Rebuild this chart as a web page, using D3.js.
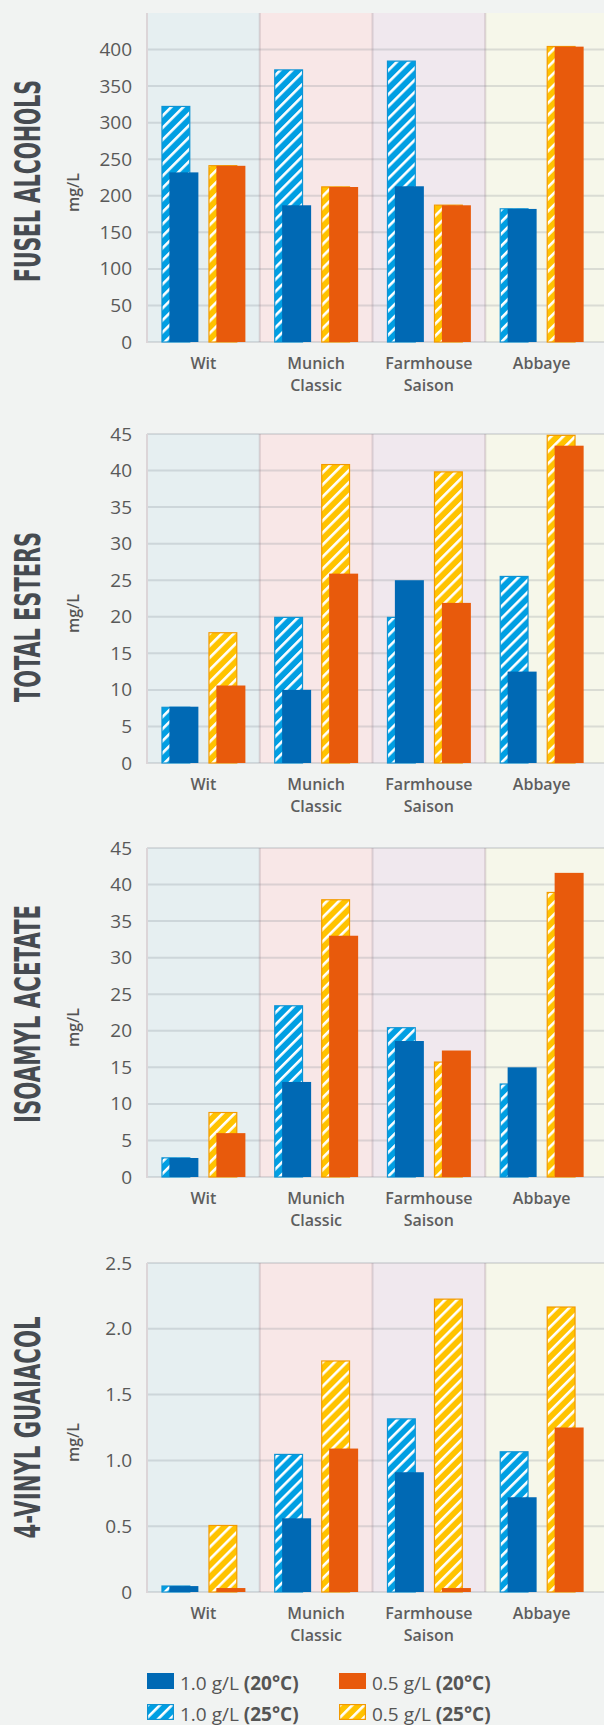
<!DOCTYPE html>
<html>
<head>
<meta charset="utf-8">
<script src="https://cdn.jsdelivr.net/npm/d3@7/dist/d3.min.js"></script>
<style>
  html, body { margin: 0; padding: 0; background: #f1f3f2; }
  svg { display: block; font-family: "Open Sans", "Noto Sans", sans-serif; }
</style>
</head>
<body>
<svg id="chart" width="604" height="1725"></svg>
<script>
// categories and panel names
const beers = ["Wit", "Munich Classic", "Farmhouse Saison", "Abbaye"];
const panelTitles = ["FUSEL ALCOHOLS", "TOTAL ESTERS", "ISOAMYL ACETATE", "4-VINYL GUAIACOL"];
const unitLabel = "mg/L";

// series, order: Wit, Munich, Farmhouse, Abbaye
const fusel_10g_25C = [323, 373, 385, 183];
const fusel_10g_20C = [232, 187, 213, 182];
const fusel_05g_25C = [242, 213, 188, 405];
const fusel_05g_20C = [241, 212, 187, 404];

const esters_10g_25C = [7.7, 20.0, 20.0, 25.6];
const esters_10g_20C = [7.7, 10.0, 25.0, 12.5];
const esters_05g_25C = [17.9, 40.9, 39.9, 44.9];
const esters_05g_20C = [10.6, 25.9, 21.9, 43.4];

const isoamyl_10g_25C = [2.7, 23.5, 20.5, 12.8];
const isoamyl_10g_20C = [2.6, 13.0, 18.6, 15.0];
const isoamyl_05g_25C = [8.9, 38.0, 15.8, 39.0];
const isoamyl_05g_20C = [6.0, 33.0, 17.3, 41.6];

const vg_10g_25C = [0.05, 1.05, 1.32, 1.07];
const vg_10g_20C = [0.045, 0.56, 0.91, 0.72];
const vg_05g_25C = [0.51, 1.76, 2.23, 2.17];
const vg_05g_20C = [0.03, 1.09, 0.03, 1.25];

// axis ticks
const fuselTicks = [0, 50, 100, 150, 200, 250, 300, 350, 400];
const esterTicks = [0, 5, 10, 15, 20, 25, 30, 35, 40, 45];
const isoamylTicks = [0, 5, 10, 15, 20, 25, 30, 35, 40, 45];
const vgTicks = [0, 0.5, 1.0, 1.5, 2.0, 2.5];
const axisMax = [450, 45, 45, 2.5];

// legend
const legendItems = [
  { key: "hi20", text: "1.0 g/L ", bold: "(20°C)" },
  { key: "lo20", text: "0.5 g/L ", bold: "(20°C)" },
  { key: "hi25", text: "1.0 g/L ", bold: "(25°C)" },
  { key: "lo25", text: "0.5 g/L ", bold: "(25°C)" },
];

const oneDecimal = (v) => (v === 0 ? "0" : d3.format(".1f")(v));

const panels = [
  { title: panelTitles[0], ticks: fuselTicks, fmt: d3.format("d"),
    hi25: fusel_10g_25C, hi20: fusel_10g_20C, lo25: fusel_05g_25C, lo20: fusel_05g_20C },
  { title: panelTitles[1], ticks: esterTicks, fmt: d3.format("d"),
    hi25: esters_10g_25C, hi20: esters_10g_20C, lo25: esters_05g_25C, lo20: esters_05g_20C },
  { title: panelTitles[2], ticks: isoamylTicks, fmt: d3.format("d"),
    hi25: isoamyl_10g_25C, hi20: isoamyl_10g_20C, lo25: isoamyl_05g_25C, lo20: isoamyl_05g_20C },
  { title: panelTitles[3], ticks: vgTicks, fmt: oneDecimal,
    hi25: vg_10g_25C, hi20: vg_10g_20C, lo25: vg_05g_25C, lo20: vg_05g_20C },
];

// layout
const W = 604;
const plotLeft = 147, plotRight = 598;
const panelTop = [13, 434, 848, 1263];
const plotH = 329;
const titleLen = [202, 170, 218, 222];
const titleDy = [3.5, 18.5, 1.5, 0];
const barW = 29, barShift = 8;

const bandFill = ["#e6eff1", "#f8e7e7", "#f0e8ee", "#f6f7ea"];
const C = {
  hi20: "#0069b4", lo20: "#e85a0c",
  hi25: "#009fe3", lo25: "#ffc300",
  hi25Stroke: "#1093d3", lo25Stroke: "#f39a00",
};

const svg = d3.select("#chart");
const defs = svg.append("defs");

function hatch(id, color) {
  const p = defs.append("pattern")
    .attr("id", id)
    .attr("patternUnits", "userSpaceOnUse")
    .attr("width", 8.5).attr("height", 8.5)
    .attr("patternTransform", "rotate(45)");
  p.append("rect").attr("width", 8.5).attr("height", 8.5).attr("fill", color);
  p.append("rect").attr("width", 2.6).attr("height", 8.5).attr("fill", "#fff");
}
hatch("hatch-blue", C.hi25);
hatch("hatch-yellow", C.lo25);

const x = d3.scaleBand().domain(beers).range([plotLeft, plotRight]);
const xs = d3.scaleBand().domain(["hi", "lo"]).range([-42, 42]).paddingInner(0.213);

panels.forEach((p, i) => {
  const top = panelTop[i];
  const bottom = top + plotH;
  const y = d3.scaleLinear().domain([0, axisMax[i]]).range([bottom, top]);
  const g = svg.append("g");

  // band backgrounds
  g.selectAll("rect.band")
    .data(beers)
    .join("rect")
    .attr("class", "band")
    .attr("x", (d) => x(d))
    .attr("y", top)
    .attr("width", (d, j) => (j === beers.length - 1 ? W - x(d) : x.bandwidth()))
    .attr("height", plotH)
    .attr("fill", (d, j) => bandFill[j]);

  // gridlines
  g.selectAll("line.grid")
    .data(p.ticks)
    .join("line")
    .attr("x1", plotLeft).attr("x2", W)
    .attr("y1", (d) => y(d)).attr("y2", (d) => y(d))
    .attr("stroke", "rgba(120,128,135,0.22)")
    .attr("stroke-width", 2);

  // separators
  g.selectAll("line.sep")
    .data(beers.slice(1))
    .join("line")
    .attr("x1", (d) => x(d)).attr("x2", (d) => x(d))
    .attr("y1", top).attr("y2", bottom)
    .attr("stroke", "rgba(150,125,135,0.28)")
    .attr("stroke-width", 2);

  g.append("line")
    .attr("x1", plotLeft).attr("x2", plotLeft)
    .attr("y1", top).attr("y2", bottom + 1)
    .attr("stroke", "#dcd5d8")
    .attr("stroke-width", 2);

  // y axis
  const axis = g.append("g")
    .attr("transform", `translate(${plotLeft},0)`)
    .call(d3.axisLeft(y).tickValues(p.ticks).tickFormat(p.fmt).tickSize(0).tickPadding(15));
  axis.select(".domain").remove();
  axis.selectAll("text")
    .attr("font-family", "'Open Sans', sans-serif")
    .attr("font-size", 19)
    .attr("fill", "#595959");

  // bars
  const groups = [
    { key: "hi25", grp: "hi", shift: 0, fill: "url(#hatch-blue)", stroke: C.hi25Stroke },
    { key: "hi20", grp: "hi", shift: barShift, fill: C.hi20, stroke: null },
    { key: "lo25", grp: "lo", shift: 0, fill: "url(#hatch-yellow)", stroke: C.lo25Stroke },
    { key: "lo20", grp: "lo", shift: barShift, fill: C.lo20, stroke: null },
  ];
  groups.forEach((s) => {
    const vals = p[s.key].map((v, j) => ({ beer: beers[j], v }));
    g.append("g")
      .selectAll("rect")
      .data(vals)
      .join("rect")
      .attr("x", (d) => x(d.beer) + x.bandwidth() / 2 + xs(s.grp) + s.shift + (s.stroke ? 0.6 : 0))
      .attr("y", (d) => y(d.v) + (s.stroke ? 0.6 : 0))
      .attr("width", barW - (s.stroke ? 1.2 : 0))
      .attr("height", (d) => Math.max(0, bottom - y(d.v) - (s.stroke ? 0.6 : 0)))
      .attr("fill", s.fill)
      .attr("stroke", s.stroke || "none")
      .attr("stroke-width", s.stroke ? 1.2 : 0);
  });

  // category labels
  g.selectAll("text.cat")
    .data(beers)
    .join("text")
    .attr("class", "cat")
    .attr("text-anchor", "middle")
    .attr("font-size", 16)
    .attr("font-weight", 600)
    .attr("fill", "#5e5e5e")
    .each(function (d) {
      const t = d3.select(this);
      d.split(" ").forEach((w, k) => {
        t.append("tspan")
          .attr("x", x(d) + x.bandwidth() / 2)
          .attr("y", bottom + 27 + k * 22)
          .text(w);
      });
    });

  // panel title
  const cy = (top + bottom) / 2;
  g.append("text")
    .attr("transform", `translate(40,${cy + titleDy[i]}) rotate(-90)`)
    .attr("text-anchor", "middle")
    .attr("font-family", "'Liberation Sans Narrow','DejaVu Sans Condensed','Roboto',sans-serif")
    .attr("font-weight", 700)
    .attr("font-size", 36)
    .attr("textLength", titleLen[i])
    .attr("lengthAdjust", "spacingAndGlyphs")
    .attr("fill", "#464b51")
    .text(p.title);

  g.append("text")
    .attr("transform", `translate(79,${cy + 15}) rotate(-90)`)
    .attr("text-anchor", "middle")
    .attr("font-size", 16)
    .attr("font-weight", 600)
    .attr("fill", "#555")
    .text(unitLabel);
});

// legend
const legCol = [147, 339], legRow = [1673, 1704];
const leg = svg.append("g");
legendItems.forEach((it, k) => {
  const lx = legCol[k % 2], ly = legRow[Math.floor(k / 2)];
  const hatched = it.key.endsWith("25");
  const stroke = it.key === "hi25" ? C.hi25Stroke : C.lo25Stroke;
  leg.append("rect")
    .attr("x", lx + (hatched ? 0.6 : 0)).attr("y", ly + (hatched ? 0.6 : 0))
    .attr("width", 27 - (hatched ? 1.2 : 0)).attr("height", 16 - (hatched ? 1.2 : 0))
    .attr("fill", hatched ? (it.key === "hi25" ? "url(#hatch-blue)" : "url(#hatch-yellow)") : C[it.key])
    .attr("stroke", hatched ? stroke : "none")
    .attr("stroke-width", hatched ? 1.2 : 0);
  const t = leg.append("text")
    .attr("x", lx + 33).attr("y", ly + 17)
    .attr("font-size", 19)
    .attr("fill", "#555");
  t.append("tspan").text(it.text);
  t.append("tspan").attr("font-weight", 700).text(it.bold);
});
</script>
</body>
</html>
